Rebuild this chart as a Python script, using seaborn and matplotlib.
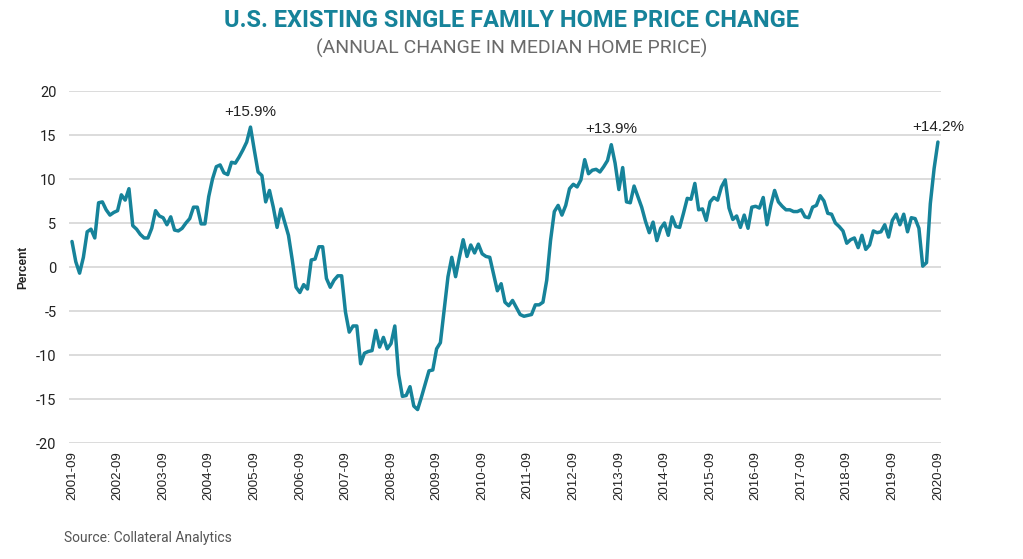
import pandas as pd
import matplotlib
matplotlib.use("Agg")
import matplotlib.pyplot as plt
import seaborn as sns

# monthly annual % change in median existing single family home price, 2001-09 .. 2020-09
pct_change = [
    2.9, 0.6, -0.7, 1.1, 4.0, 4.3, 3.3, 7.3, 7.4, 6.5, 5.9, 6.2,
    6.4, 8.2, 7.6, 8.9, 4.7, 4.3, 3.7, 3.3, 3.3, 4.4, 6.4, 5.8,
    5.6, 4.8, 5.7, 4.2, 4.1, 4.4, 5.0, 5.5, 6.8, 6.8, 4.9, 4.9,
    8.0, 10.0, 11.4, 11.6, 10.7, 10.5, 11.9, 11.8, 12.5, 13.3, 14.2, 15.9,
    13.3, 10.8, 10.4, 7.4, 8.7, 6.8, 4.5, 6.6, 5.1, 3.6, 0.8, -2.3,
    -2.9, -2.0, -2.5, 0.8, 0.9, 2.3, 2.3, -1.3, -2.3, -1.5, -1.0, -1.0,
    -5.1, -7.4, -6.7, -6.7, -11.0, -9.8, -9.6, -9.5, -7.2, -9.1, -8.0, -9.3,
    -8.7, -6.7, -12.2, -14.7, -14.6, -13.6, -15.8, -16.2, -14.8, -13.3, -11.8, -11.7,
    -9.3, -8.6, -4.9, -1.1, 1.1, -1.1, 1.1, 3.1, 1.2, 2.5, 1.6, 2.6,
    1.5, 1.2, 1.1, -0.8, -2.7, -1.9, -4.0, -4.4, -3.8, -4.6, -5.4, -5.6,
    -5.5, -5.4, -4.3, -4.3, -4.0, -1.5, 3.0, 6.3, 7.0, 5.9, 7.0, 8.9,
    9.4, 9.1, 9.9, 12.2, 10.6, 11.0, 11.1, 10.8, 11.4, 12.1, 13.9, 11.8,
    8.8, 11.3, 7.4, 7.3, 9.2, 8.0, 6.8, 5.2, 3.9, 5.1, 3.0, 4.4,
    5.0, 3.6, 5.7, 4.6, 4.5, 6.1, 7.8, 7.7, 9.5, 6.5, 6.6, 5.3,
    7.4, 7.9, 7.6, 9.1, 9.9, 6.7, 5.4, 5.8, 4.5, 5.9, 4.4, 6.8,
    6.9, 6.7, 7.9, 4.8, 7.0, 8.7, 7.4, 6.9, 6.5, 6.5, 6.3, 6.3,
    6.5, 5.7, 5.6, 6.8, 7.0, 8.1, 7.5, 6.1, 6.0, 5.0, 4.6, 4.1,
    2.7, 3.1, 3.3, 2.2, 3.6, 2.0, 2.5, 4.1, 3.9, 4.0, 4.8, 3.4,
    5.3, 6.0, 4.8, 6.0, 4.0, 5.6, 5.5, 4.4, 0.1, 0.5, 7.2, 11.2,
    14.2,
]
tick_labels = [f"{y}-09" for y in range(2001, 2021)]
peak_labels = ["+15.9%", "+13.9%", "+14.2%"]
peak_months = [47, 142, 228]

df = pd.DataFrame({"month": range(len(pct_change)), "pct": pct_change})

teal = "#16839a"
narrow = ["Roboto", "DejaVu Sans"]

sns.set_style("white")
plt.rcParams["font.family"] = ["Liberation Sans", "DejaVu Sans"]

fig = plt.figure(figsize=(10.23, 5.59), dpi=100)
ax = fig.add_axes([0.0674, 0.2075, 0.8524, 0.6297])

sns.lineplot(data=df, x="month", y="pct", ax=ax, color=teal, linewidth=2.5)

ax.set_ylim(-20, 20)
ax.set_xlim(-0.8, len(pct_change) - 0.2)
ax.set_yticks(range(-20, 21, 5))
ax.set_yticklabels([str(v) for v in range(-20, 21, 5)], fontsize=10.5,
                   family=narrow, color="#222222")
ax.set_xticks(range(0, len(pct_change), 12))
ax.set_xticklabels(tick_labels, rotation=90, fontsize=9.5, color="#222222")
ax.tick_params(axis="both", length=0)
ax.tick_params(axis="y", pad=9)
ax.tick_params(axis="x", pad=6)
ax.grid(axis="y", color="#d9d9d9", linewidth=1.3)
ax.grid(axis="x", visible=False)
for s in ax.spines.values():
    s.set_visible(False)

ax.set_xlabel("")
ax.set_ylabel("Percent", fontsize=8.5, fontweight="bold", color="#222222")
ax.yaxis.set_label_coords(-0.045, 0.5)

for m, lab in zip(peak_months, peak_labels):
    ax.annotate(lab, xy=(m, pct_change[m]), xytext=(0, 6), textcoords="offset points",
                ha="center", va="bottom", fontsize=11, color="#222222")

fig.text(0.5, 0.963, "U.S. EXISTING SINGLE FAMILY HOME PRICE CHANGE", ha="center",
         va="center", fontsize=17, fontweight="bold", color=teal, family=narrow)
fig.text(0.5, 0.914, "(ANNUAL CHANGE IN MEDIAN HOME PRICE)", ha="center",
         va="center", fontsize=14, color="#6a6a6a", family=narrow)
fig.text(0.063, 0.038, "Source: Collateral Analytics", ha="left", va="center",
         fontsize=10, color="#555555", family=narrow)

fig.savefig("out.png", dpi=100)
